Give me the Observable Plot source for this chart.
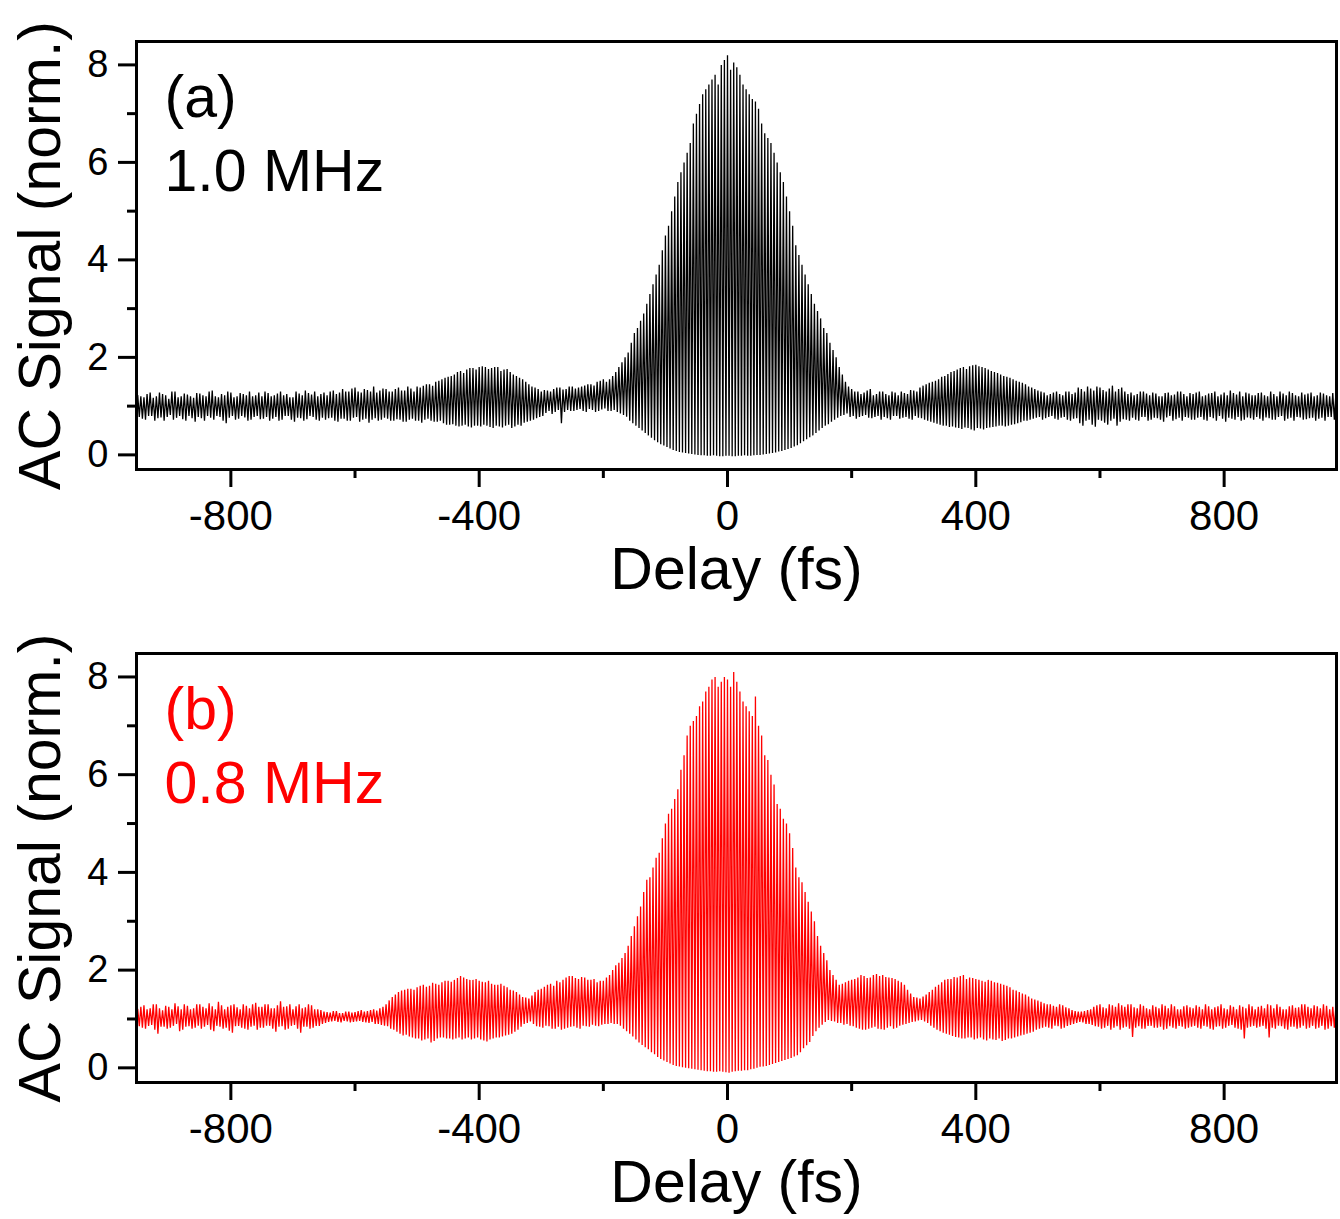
<!DOCTYPE html>
<html>
<head>
<meta charset="utf-8">
<script src="https://cdn.jsdelivr.net/npm/d3@7"></script>
<script src="https://cdn.jsdelivr.net/npm/@observablehq/plot@0.6"></script>
<style>
  html, body { margin: 0; padding: 0; background: #fff; }
  #chart svg { display: block; }
</style>
</head>
<body>
<div id="chart"></div>
<script>
// Delay grid (fs). For sample i: maxima read at delayStart+10i (set 1) and +5 fs (set 2);
// minima read at +2.5 fs (set 1) and +7.5 fs (set 2).
const delayStart = -950;
const delayStep = 10;
const nSamples = 194;

// ---------- Panel (a) 1.0 MHz ----------
const aUpper = [
  1.22,1.18,1.28,1.2,1.25,1.15,1.3,1.2,1.24,1.17,
  1.26,1.2,1.32,1.18,1.22,1.28,1.2,1.25,1.3,1.22,
  1.2,1.27,1.22,1.3,1.25,1.18,1.26,1.32,1.24,1.2,
  1.28,1.3,1.25,1.35,1.3,1.38,1.28,1.33,1.4,1.32,
  1.35,1.3,1.38,1.32,1.36,1.4,1.42,1.45,1.5,1.55,
  1.6,1.65,1.72,1.75,1.78,1.8,1.8,1.78,1.8,1.75,
  1.7,1.62,1.55,1.45,1.38,1.3,1.32,1.35,1.38,1.35,
  1.4,1.38,1.42,1.45,1.5,1.55,1.55,1.7,1.9,2.1,
  2.5,2.75,3.1,3.5,3.9,4.5,5.0,5.6,6.0,6.4,
  7.0,7.4,7.6,7.8,8.0,8.2,8.05,7.8,7.5,7.3,
  7.1,6.6,6.4,6.0,5.6,5.0,4.3,3.9,3.5,3.1,
  2.8,2.5,2.15,1.8,1.5,1.35,1.3,1.28,1.35,1.25,
  1.3,1.22,1.28,1.3,1.25,1.32,1.38,1.45,1.5,1.55,
  1.62,1.7,1.75,1.8,1.82,1.85,1.8,1.75,1.7,1.65,
  1.6,1.55,1.5,1.45,1.38,1.32,1.28,1.25,1.3,1.22,
  1.3,1.28,1.35,1.4,1.32,1.38,1.3,1.42,1.35,1.3,
  1.28,1.25,1.3,1.22,1.26,1.2,1.28,1.24,1.3,1.2,
  1.25,1.3,1.22,1.27,1.2,1.28,1.32,1.24,1.2,1.26,
  1.22,1.28,1.2,1.25,1.3,1.22,1.27,1.2,1.24,1.28,
  1.22,1.26,1.2,1.25
];
const aLower = [
  0.78,0.72,0.8,0.75,0.7,0.82,0.76,0.73,0.8,0.68,
  0.75,0.8,0.72,0.78,0.65,0.8,0.74,0.77,0.72,0.8,
  0.74,0.7,0.78,0.72,0.8,0.68,0.75,0.73,0.78,0.7,
  0.72,0.76,0.68,0.74,0.7,0.78,0.72,0.66,0.75,0.72,
  0.74,0.7,0.72,0.68,0.74,0.7,0.72,0.7,0.68,0.65,
  0.62,0.6,0.6,0.58,0.6,0.58,0.6,0.55,0.58,0.6,
  0.55,0.62,0.66,0.7,0.75,0.8,0.9,0.88,0.65,0.92,
  0.9,0.94,0.88,0.92,0.9,0.95,0.9,0.88,0.82,0.7,
  0.6,0.5,0.4,0.3,0.22,0.16,0.1,0.06,0.04,0.02,
  0.0,-0.01,-0.02,-0.02,-0.03,-0.02,-0.03,-0.02,-0.02,-0.01,
  0.0,0.02,0.04,0.07,0.1,0.14,0.2,0.28,0.36,0.45,
  0.55,0.63,0.72,0.8,0.85,0.8,0.78,0.82,0.75,0.8,
  0.78,0.72,0.8,0.76,0.74,0.8,0.75,0.7,0.66,0.62,
  0.6,0.58,0.55,0.56,0.52,0.55,0.52,0.56,0.58,0.6,
  0.6,0.63,0.67,0.7,0.74,0.78,0.75,0.8,0.72,0.78,
  0.7,0.75,0.6,0.72,0.58,0.7,0.62,0.74,0.68,0.72,
  0.76,0.7,0.78,0.72,0.75,0.68,0.8,0.73,0.7,0.76,
  0.72,0.78,0.7,0.75,0.8,0.68,0.74,0.78,0.72,0.75,
  0.78,0.7,0.75,0.72,0.8,0.74,0.7,0.77,0.73,0.76,
  0.74,0.7,0.78,0.75
];
const aUpper2 = [
  1.2,1.25,1.17,1.28,1.22,1.3,1.18,1.26,1.2,1.27,
  1.22,1.3,1.2,1.25,1.3,1.18,1.27,1.22,1.2,1.28,
  1.3,1.2,1.26,1.22,1.18,1.3,1.22,1.27,1.3,1.25,
  1.22,1.32,1.28,1.3,1.36,1.3,1.35,1.3,1.28,1.36,
  1.3,1.35,1.32,1.4,1.3,1.38,1.45,1.42,1.52,1.58,
  1.62,1.7,1.68,1.78,1.75,1.82,1.76,1.8,1.72,1.76,
  1.65,1.58,1.5,1.4,1.35,1.33,1.3,1.38,1.34,1.4,
  1.36,1.4,1.45,1.42,1.52,1.5,1.62,1.8,2.0,2.3,
  2.6,2.9,3.3,3.7,4.2,4.7,5.3,5.8,6.2,6.8,
  7.2,7.5,7.7,7.6,8.1,7.9,7.95,7.6,7.4,7.25,
  6.8,6.5,6.2,5.8,5.3,4.7,4.1,3.7,3.3,2.95,
  2.6,2.3,2.0,1.65,1.4,1.3,1.25,1.32,1.22,1.3,
  1.25,1.3,1.22,1.27,1.33,1.3,1.42,1.48,1.52,1.6,
  1.66,1.72,1.78,1.76,1.84,1.82,1.78,1.72,1.68,1.62,
  1.58,1.52,1.48,1.4,1.35,1.3,1.22,1.28,1.25,1.3,
  1.25,1.38,1.3,1.36,1.4,1.33,1.36,1.3,1.38,1.25,
  1.22,1.3,1.26,1.28,1.2,1.27,1.22,1.3,1.25,1.27,
  1.28,1.2,1.26,1.3,1.24,1.22,1.27,1.3,1.28,1.22,
  1.27,1.22,1.3,1.2,1.26,1.3,1.22,1.28,1.26,1.2,
  1.28,1.22,1.27,1.3
];
const aLower2 = [
  0.74,0.8,0.7,0.77,0.78,0.72,0.8,0.7,0.75,0.78,
  0.7,0.76,0.8,0.7,0.76,0.72,0.8,0.7,0.78,0.73,
  0.78,0.74,0.7,0.8,0.72,0.76,0.7,0.8,0.72,0.76,
  0.75,0.7,0.74,0.7,0.76,0.68,0.74,0.72,0.7,0.76,
  0.7,0.73,0.68,0.72,0.7,0.66,0.74,0.68,0.7,0.62,
  0.63,0.58,0.62,0.56,0.6,0.62,0.57,0.6,0.56,0.62,
  0.58,0.6,0.68,0.72,0.78,0.86,0.84,0.92,0.88,0.9,
  0.92,0.9,0.94,0.88,0.93,0.9,0.92,0.85,0.78,0.65,
  0.55,0.45,0.35,0.26,0.19,0.13,0.08,0.05,0.03,0.01,
  -0.01,-0.02,-0.01,-0.03,-0.02,-0.03,-0.02,-0.01,-0.02,0.0,
  0.01,0.03,0.05,0.08,0.12,0.17,0.24,0.32,0.4,0.5,
  0.6,0.68,0.76,0.82,0.78,0.74,0.8,0.76,0.78,0.72,
  0.75,0.8,0.74,0.78,0.72,0.76,0.72,0.68,0.64,0.6,
  0.57,0.56,0.53,0.55,0.5,0.54,0.55,0.57,0.6,0.58,
  0.62,0.65,0.7,0.72,0.76,0.72,0.78,0.74,0.76,0.72,
  0.74,0.65,0.7,0.62,0.72,0.66,0.7,0.6,0.73,0.7,
  0.72,0.78,0.7,0.76,0.72,0.77,0.7,0.76,0.78,0.72,
  0.76,0.72,0.78,0.7,0.74,0.76,0.72,0.7,0.77,0.72,
  0.74,0.77,0.72,0.78,0.7,0.76,0.78,0.72,0.75,0.7,
  0.76,0.78,0.72,0.74
];

// ---------- Panel (b) 0.8 MHz ----------
const bUpper = [
  1.2,1.28,1.22,1.3,1.18,1.25,1.32,1.2,1.27,1.22,
  1.3,1.22,1.26,1.35,1.2,1.28,1.24,1.3,1.22,1.33,
  1.25,1.3,1.22,1.36,1.26,1.2,1.3,1.24,1.28,1.2,
  1.15,1.13,1.16,1.12,1.15,1.14,1.18,1.16,1.2,1.22,
  1.3,1.45,1.55,1.6,1.62,1.65,1.7,1.68,1.72,1.75,
  1.78,1.8,1.88,1.82,1.8,1.78,1.75,1.72,1.7,1.68,
  1.6,1.55,1.45,1.42,1.55,1.62,1.7,1.68,1.75,1.85,
  1.88,1.82,1.85,1.8,1.75,1.78,1.9,2.1,2.25,2.5,
  2.9,3.3,3.85,4.1,4.4,5.0,5.3,5.7,6.4,7.0,
  7.2,7.5,7.8,8.0,7.9,7.95,8.1,7.7,7.4,7.2,
  7.0,6.4,6.0,5.4,5.1,4.8,4.1,3.8,3.4,3.0,
  2.5,2.2,1.9,1.7,1.75,1.8,1.85,1.88,1.85,1.92,
  1.9,1.85,1.82,1.75,1.6,1.45,1.42,1.5,1.6,1.7,
  1.8,1.82,1.85,1.9,1.85,1.82,1.78,1.8,1.75,1.72,
  1.68,1.6,1.55,1.5,1.42,1.38,1.32,1.3,1.25,1.28,
  1.22,1.16,1.15,1.18,1.25,1.3,1.22,1.28,1.32,1.25,
  1.3,1.22,1.27,1.2,1.25,1.3,1.22,1.26,1.2,1.28,
  1.22,1.25,1.3,1.2,1.26,1.22,1.28,1.2,1.25,1.3,
  1.2,1.27,1.3,1.22,1.25,1.2,1.28,1.24,1.3,1.22,
  1.26,1.3,1.2,1.25
];
const bLower = [
  0.85,0.8,0.88,0.7,0.84,0.82,0.9,0.78,0.85,0.82,
  0.8,0.88,0.75,0.84,0.82,0.72,0.86,0.8,0.84,0.78,
  0.82,0.86,0.74,0.85,0.8,0.88,0.72,0.84,0.82,0.86,
  0.92,0.95,0.94,0.96,0.93,0.95,0.94,0.92,0.9,0.88,
  0.85,0.78,0.7,0.68,0.62,0.6,0.58,0.52,0.6,0.62,
  0.6,0.6,0.58,0.62,0.6,0.58,0.54,0.6,0.62,0.66,
  0.7,0.78,0.9,0.95,0.85,0.82,0.85,0.8,0.78,0.82,
  0.85,0.8,0.85,0.88,0.85,0.9,0.92,0.9,0.8,0.7,
  0.58,0.47,0.38,0.28,0.18,0.12,0.06,0.03,0.0,-0.02,
  -0.04,-0.06,-0.07,-0.08,-0.08,-0.1,-0.07,-0.06,-0.05,-0.02,
  0.02,0.04,0.08,0.12,0.16,0.2,0.26,0.4,0.53,0.75,
  0.88,0.98,0.95,0.92,0.9,0.85,0.8,0.78,0.82,0.8,
  0.78,0.85,0.82,0.88,0.92,0.95,0.98,0.92,0.82,0.75,
  0.7,0.65,0.62,0.6,0.62,0.6,0.58,0.6,0.57,0.55,
  0.6,0.62,0.66,0.7,0.74,0.8,0.84,0.8,0.85,0.82,
  0.88,0.92,0.93,0.9,0.85,0.8,0.86,0.82,0.78,0.84,
  0.63,0.85,0.8,0.86,0.82,0.78,0.85,0.8,0.84,0.82,
  0.86,0.8,0.84,0.78,0.85,0.82,0.88,0.8,0.6,0.84,
  0.82,0.86,0.62,0.8,0.85,0.78,0.84,0.82,0.8,0.86,
  0.82,0.78,0.85,0.8
];
const bUpper2 = [
  1.25,1.2,1.3,1.22,1.27,1.2,1.26,1.3,1.2,1.3,
  1.25,1.32,1.2,1.28,1.25,1.3,1.2,1.27,1.3,1.25,
  1.3,1.22,1.28,1.25,1.3,1.26,1.22,1.3,1.2,1.18,
  1.14,1.16,1.12,1.15,1.13,1.16,1.15,1.18,1.17,1.25,
  1.38,1.5,1.58,1.62,1.6,1.68,1.66,1.74,1.7,1.78,
  1.76,1.84,1.85,1.8,1.82,1.76,1.78,1.7,1.72,1.65,
  1.58,1.5,1.44,1.48,1.6,1.66,1.72,1.78,1.8,1.88,
  1.84,1.86,1.8,1.82,1.78,1.85,2.0,2.15,2.35,2.7,
  3.1,3.6,3.9,4.3,4.7,5.2,5.5,6.1,6.8,7.1,
  7.4,7.7,7.95,7.8,8.0,7.8,7.9,7.5,7.3,7.6,
  6.8,6.3,5.8,5.3,5.0,4.5,3.9,3.6,3.2,2.7,
  2.35,2.0,1.8,1.72,1.78,1.82,1.9,1.84,1.9,1.88,
  1.86,1.84,1.78,1.7,1.52,1.44,1.46,1.55,1.66,1.75,
  1.82,1.86,1.88,1.82,1.84,1.8,1.76,1.78,1.74,1.7,
  1.65,1.58,1.52,1.46,1.4,1.35,1.3,1.27,1.3,1.24,
  1.18,1.15,1.16,1.2,1.28,1.24,1.3,1.25,1.28,1.3,
  1.24,1.3,1.22,1.28,1.22,1.27,1.3,1.2,1.26,1.24,
  1.28,1.2,1.26,1.24,1.3,1.2,1.25,1.28,1.22,1.26,
  1.25,1.22,1.28,1.3,1.2,1.26,1.23,1.3,1.25,1.28,
  1.22,1.27,1.25,1.3
];
const bLower2 = [
  0.82,0.86,0.78,0.84,0.8,0.86,0.75,0.84,0.8,0.86,
  0.84,0.78,0.86,0.8,0.76,0.85,0.82,0.78,0.86,0.82,
  0.86,0.8,0.84,0.78,0.86,0.8,0.84,0.8,0.86,0.9,
  0.94,0.96,0.93,0.95,0.94,0.96,0.93,0.94,0.9,0.86,
  0.8,0.74,0.66,0.64,0.6,0.56,0.6,0.55,0.62,0.6,
  0.58,0.62,0.6,0.58,0.62,0.56,0.58,0.62,0.64,0.68,
  0.74,0.84,0.92,0.9,0.84,0.86,0.8,0.84,0.8,0.84,
  0.82,0.86,0.84,0.86,0.88,0.9,0.9,0.86,0.75,0.64,
  0.52,0.42,0.32,0.22,0.15,0.09,0.04,0.01,-0.01,-0.03,
  -0.05,-0.07,-0.08,-0.07,-0.09,-0.08,-0.06,-0.05,-0.03,0.0,
  0.03,0.06,0.1,0.14,0.18,0.23,0.32,0.46,0.65,0.82,
  0.94,0.96,0.92,0.88,0.86,0.82,0.78,0.8,0.84,0.79,
  0.82,0.8,0.86,0.9,0.94,0.97,0.95,0.86,0.78,0.72,
  0.68,0.63,0.6,0.62,0.58,0.62,0.56,0.58,0.6,0.57,
  0.6,0.64,0.68,0.72,0.78,0.82,0.82,0.86,0.8,0.86,
  0.9,0.94,0.9,0.88,0.84,0.82,0.78,0.85,0.82,0.8,
  0.82,0.8,0.86,0.82,0.84,0.8,0.82,0.86,0.8,0.84,
  0.82,0.86,0.8,0.84,0.8,0.86,0.82,0.78,0.82,0.86,
  0.84,0.8,0.82,0.86,0.8,0.84,0.8,0.86,0.82,0.8,
  0.86,0.8,0.82,0.84
];

const xMajorTicks = [-800, -400, 0, 400, 800];
const xMinorTicks = [-600, -200, 200, 600];
const yMajorTicks = [0, 2, 4, 6, 8];
const yMinorTicks = [1, 3, 5, 7];
const xLabel = "Delay (fs)";
const yLabel = "AC Signal (norm.)";
const panels = [
  {tag: "(a)", rate: "1.0 MHz", upper: aUpper, lower: aLower, upper2: aUpper2, lower2: aLower2, color: "#000000"},
  {tag: "(b)", rate: "0.8 MHz", upper: bUpper, lower: bLower, upper2: bUpper2, lower2: bLower2, color: "#ff0000"}
];

const FONT = "'Liberation Sans', Arial, Helvetica, sans-serif";

function buildRows(p) {
  const rows = [];
  const q = delayStep / 4;
  for (let i = 0; i < nSamples; i++) {
    const d = delayStart + delayStep * i;
    rows.push({delay: d, signal: p.upper[i]});
    rows.push({delay: d + q, signal: p.lower[i]});
    rows.push({delay: d + 2 * q, signal: p.upper2[i]});
    rows.push({delay: d + 3 * q, signal: p.lower2[i]});
  }
  return rows;
}

function makePanel(p, height, marginTop, marginBottom) {
  const rows = buildRows(p);
  return Plot.plot({
    width: 1340,
    height,
    marginLeft: 136,
    marginRight: 4,
    marginTop,
    marginBottom,
    style: {fontFamily: FONT, background: "#fff", color: "#000", overflow: "visible"},
    x: {domain: [-952, 981]},
    y: {domain: [-0.3, 8.48]},
    marks: [
      Plot.line(rows, {x: "delay", y: "signal", stroke: p.color, strokeWidth: 1.3, strokeLinejoin: "miter", strokeMiterlimit: 2, clip: true}),
      Plot.frame({stroke: "#000", strokeWidth: 3}),
      Plot.axisX({ticks: xMajorTicks, tickSize: 18, tickPadding: 13, strokeWidth: 3, fontSize: 42, label: null, tickFormat: d => String(d)}),
      Plot.axisX({ticks: xMinorTicks, tickSize: 9, strokeWidth: 3, label: null, tickFormat: () => ""}),
      Plot.axisY({ticks: yMajorTicks, tickSize: 18, tickPadding: 10, strokeWidth: 3, fontSize: 38, label: null, tickFormat: d => String(d)}),
      Plot.axisY({ticks: yMinorTicks, tickSize: 9, strokeWidth: 3, label: null, tickFormat: () => ""}),
      Plot.text([xLabel], {text: d => d, frameAnchor: "bottom", textAnchor: "middle", lineAnchor: "middle", dy: 101, fontSize: 59}),
      Plot.text([yLabel], {text: d => d, frameAnchor: "left", textAnchor: "middle", lineAnchor: "middle", rotate: -90, dx: -95, fontSize: 59}),
      Plot.text([p.tag], {text: d => d, frameAnchor: "top-left", textAnchor: "start", lineAnchor: "top", dx: 28, dy: 34, fontSize: 59, fill: p.color}),
      Plot.text([p.rate], {text: d => d, frameAnchor: "top-left", textAnchor: "start", lineAnchor: "top", dx: 28, dy: 108, fontSize: 59, fill: p.color})
    ]
  });
}

const root = document.getElementById("chart");
root.appendChild(makePanel(panels[0], 613, 41, 144));
root.appendChild(makePanel(panels[1], 606, 40, 137));
</script>
</body>
</html>
